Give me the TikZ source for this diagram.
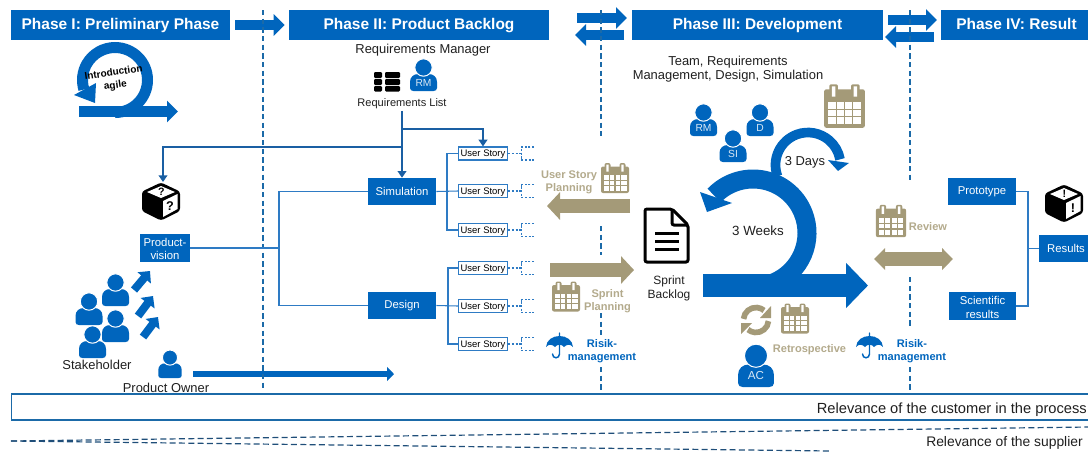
\documentclass[tikz,border=0pt]{standalone}
\usepackage{fontspec}
\setmainfont{Liberation Sans}
\usetikzlibrary{arrows.meta}

\definecolor{tumblue}{HTML}{0065BD}
\definecolor{linkblue}{HTML}{1A5FA3}
\definecolor{treeblue}{HTML}{2E7BC4}
\definecolor{splitblue}{HTML}{1B6AA8}
\definecolor{tanfill}{HTML}{A49A78}
\definecolor{tantext}{HTML}{B3AA8C}
\definecolor{navyline}{HTML}{1F4E79}

\tikzset{
  every pic/.style={yscale=-1},
  phasehead/.style={fill=tumblue,text=white,inner sep=0pt,minimum height=22.5pt,text height=8.6pt,text depth=2.4pt,font=\fontsize{11.6}{14}\selectfont\bfseries},
  bluebox/.style={fill=tumblue,text=white,inner sep=0pt,align=center,font=\fontsize{8.5}{9.7}\selectfont},
  storybox/.style={draw=treeblue,fill=white,line width=0.9pt,inner sep=0pt,minimum width=36.75pt,minimum height=9.75pt,text height=5.3pt,text depth=0.6pt,font=\fontsize{7.1}{8}\selectfont},
  plaintext/.style={inner sep=0pt,align=center,text=black!88,font=\fontsize{9.7}{10.6}\selectfont},
  smalltext/.style={plaintext,font=\fontsize{8.3}{10}\selectfont},
  tanlabel/.style={inner sep=0pt,align=center,text=tantext,font=\fontsize{8.3}{9.8}\selectfont\bfseries},
  risktext/.style={inner sep=0pt,align=center,text=tumblue,font=\fontsize{8.3}{9.8}\selectfont\bfseries},
  personlabel/.style={inner sep=0pt,text=white!85!tumblue,font=\fontsize{7.7}{9}\selectfont},
  treeline/.style={draw=treeblue,line width=0.8pt},
  reqlink/.style={draw=linkblue,line width=1.2pt},
  reqarrow/.style={reqlink,-{Triangle[length=5pt,width=6.5pt]}},
  splitline/.style={draw=splitblue,line width=1pt,dash pattern=on 4pt off 2.5pt},
  blockarrow/.style n args={3}{line width=#1,-{Triangle[length=#2,width=#3]}},
  phaseflow/.style={draw=tumblue,blockarrow={7.5pt}{8.25pt}{15.75pt}},
  ownerflow/.style={draw=tumblue,blockarrow={4.9pt}{5.25pt}{10.5pt}},
  voiceflow/.style={draw=tumblue,blockarrow={6pt}{6.75pt}{12.75pt}},
  tanflow/.style={draw=tanfill,blockarrow={10.5pt}{9.75pt}{20.25pt}},
  pics/person/.style={code={
    \fill[tumblue] (-13.5,-3) -- (-13.5,-9) .. controls (-13.5,-14) and (-10,-17) .. (-5,-17) -- (5,-17) .. controls (10,-17) and (13.5,-14) .. (13.5,-9) -- (13.5,-3) .. controls (13.5,-1) and (12,0) .. (10,0) -- (-10,0) .. controls (-12,0) and (-13.5,-1) .. (-13.5,-3) -- cycle;
    \filldraw[fill=tumblue,draw=white,line width=0.75pt] (0,-23.5) circle (8.7);
  }},
  pics/calendar/.style={code={
    \fill[tanfill,rounded corners=1.5] (-14,-11.5) rectangle (14,15);
    \fill[tanfill,rounded corners=1.5] (-10.5,-15) rectangle (-4.5,-5) (4.5,-15) rectangle (10.5,-5);
    \fill[white] (-8.7,-13.5) rectangle (-6.3,-6.5) (6.3,-13.5) rectangle (8.7,-6.5);
    \fill[white] (-11.5,-3) rectangle (11.5,12.5);
    \draw[tanfill,line width=0.8pt] (-5.75,-3) -- (-5.75,12.5) (0,-3) -- (0,12.5) (5.75,-3) -- (5.75,12.5) (-11.5,2.2) -- (11.5,2.2) (-11.5,7.4) -- (11.5,7.4);
  }},
  pics/boxcube/.style={code={
    \fill[black,rounded corners=2] (0,-19.5) -- (19,-10.5) -- (19,9) -- (0,18.5) -- (-19,9) -- (-19,-10.5) -- cycle;
    \fill[white] (0,-16) -- (14,-10) -- (0,-4) -- (-14,-10) -- cycle;
    \fill[white] (2,-1) -- (16.5,-8) -- (16.5,7) -- (2,15) -- cycle;
    \node[inner sep=0pt,font=\fontsize{8}{9}\selectfont\bfseries] (-top) at (0.5,-10) {#1};
    \node[inner sep=0pt,font=\fontsize{9.5}{10}\selectfont\bfseries] (-side) at (9,4) {#1};
  }},
  pics/umbrella/.style={code={
    \draw[tumblue,line width=1.1pt,line cap=round] (0,0) -- (0,4) (0,12) -- (0,21) .. controls (0,26) and (-7,26) .. (-7,21);
    \fill[tumblue] (-13.5,14) .. controls (-13,7) and (-7,3) .. (0,3) .. controls (7,3) and (13,7) .. (13.5,14) .. controls (11,11) and (7.5,11) .. (4.5,14) .. controls (2.5,11) and (-2.5,11) .. (-4.5,14) .. controls (-7.5,11) and (-11,11) .. (-13.5,14) -- cycle;
  }},
  pics/storytail/.style={code={
    \draw[draw=treeblue,line width=0.8pt,dash pattern=on 1.6pt off 1.2pt] (0,0) -- (13,0) (26,-6.5) -- (13,-6.5) -- (13,6.5) -- (26,6.5);
  }},
}

\begin{document}
\begin{tikzpicture}[x=0.75pt,y=0.75pt,yscale=-1,xscale=1]
\useasboundingbox (0,0) rectangle (1088,451);

%Phase headers
\node[phasehead,minimum width=164.25pt] (phaseone) at (120.5,25) {Phase I: Preliminary Phase};
\node[phasehead,minimum width=195pt] (phasetwo) at (419,25) {Phase II: Product Backlog};
\node[phasehead,minimum width=188.25pt] (phasethree) at (757.5,25) {Phase III: Development};
\node[phasehead,minimum width=113.25pt] (phasefour) at (1016.5,25) {Phase IV: Result};

%Phase arrows
\draw[phaseflow,shorten <=3.75pt,shorten >=3pt] (phaseone.east) -- (phasetwo.west);
\coordinate (swaptwoa) at (577,18); \coordinate (swaptwob) at (627,18);
\coordinate (swaptwoc) at (624,35); \coordinate (swaptwod) at (575,35);
\draw[phaseflow] (swaptwoa) -- (swaptwob);
\draw[phaseflow] (swaptwoc) -- (swaptwod);
\coordinate (swapthreea) at (888,20); \coordinate (swapthreeb) at (937,20);
\coordinate (swapthreec) at (934,37); \coordinate (swapthreed) at (885,37);
\draw[phaseflow] (swapthreea) -- (swapthreeb);
\draw[phaseflow] (swapthreec) -- (swapthreed);

%Product owner arrow
\coordinate (ownerstart) at (193,374); \coordinate (ownerend) at (394,374);
\draw[ownerflow] (ownerstart) -- (ownerend);

%Phase borders
\draw[splitline] (263,10) -- (263,388);
\draw[splitline] (601,10) -- (601,136);
\draw[splitline] (601,226) -- (601,255);
\draw[splitline] (601,313) -- (601,335);
\draw[splitline] (601,367) -- (601,392);
\draw[splitline] (910,10) -- (910,183);
\draw[splitline] (910,277) -- (910,328);
\draw[splitline] (910,367) -- (910,392);

%Shape: Intro loop
\draw[draw=tumblue,line width=8.25pt] ([shift={(90:32.5)}]115,80) arc[start angle=90,end angle=-197,radius=32.5];
\fill[tumblue] (74,95) -- (95,103) -- (96,83) -- cycle;
\coordinate (introstart) at (79,111.5); \coordinate (introend) at (178,111.5);
\draw[phaseflow,blockarrow={8.25pt}{8.25pt}{15.75pt}] (introstart) -- (introend);
% Text Node
\node[inner sep=0pt,rotate=8,align=center,font=\fontsize{7.5}{9.6}\selectfont\bfseries] (introtext) at (114.5,79.5) {Introduction\\agile};

%Shape: Product box
\pic (unknownbox) at (161,202) {boxcube={?}};
\node[bluebox,minimum width=37.5pt,minimum height=21pt] (vision) at (165,248) {\rule{0pt}{8pt}Product-\\vision};

%Stakeholders
\pic at (115.5,306) {person};
\pic at (89,325) {person};
\pic at (115.5,342) {person};
\pic at (92.5,358) {person};
\pic[scale=0.87] at (170,378) {person};
\coordinate (voiceaa) at (134,290); \coordinate (voiceab) at (150,271);
\coordinate (voiceba) at (138,316); \coordinate (voicebb) at (153,296);
\coordinate (voiceca) at (143,337); \coordinate (voicecb) at (158,317);
\draw[voiceflow] (voiceaa) -- (voiceab);
\draw[voiceflow] (voiceba) -- (voicebb);
\draw[voiceflow] (voiceca) -- (voicecb);
% Text Node
\node[plaintext] (stakeholder) at (97,364.5) {Stakeholder};
% Text Node
\node[plaintext] (owner) at (166,388) {Product Owner};

%Requirements
% Text Node
\node[plaintext] (manager) at (423,50.5) {Requirements Manager};
\fill[black,rounded corners=0.8] (374,72) rectangle (382,78) (385,72) rectangle (400,78) (374,79) rectangle (382,85) (385,79) rectangle (400,85) (374,86) rectangle (382,91.5) (385,86) rectangle (400,91.5);
\pic at (423.5,91) {person};
\node[personlabel] (rmtop) at (423.5,83) {RM};
% Text Node
\node[smalltext,minimum height=10pt] (reqlist) at (402,104) {Requirements List};

%Product backlog tree
\node[bluebox,minimum width=51pt,minimum height=20.25pt] (sim) at (402,191.5) {Simulation};
\node[bluebox,minimum width=51pt,minimum height=20.25pt] (design) at (402,305.5) {Design};
\node[storybox] (usone) at (483,153.5) {User Story};
\node[storybox] (ustwo) at (483,191) {User Story};
\node[storybox] (usthree) at (483,230) {User Story};
\node[storybox] (usfour) at (483,268) {User Story};
\node[storybox] (usfive) at (483,306) {User Story};
\node[storybox] (ussix) at (483,344) {User Story};
\coordinate (visionbus) at (279,248);
\coordinate (simbus) at (447,191);
\coordinate (designbus) at (448,306);
\draw[treeline] (vision.east) -- (visionbus);
\draw[treeline] (sim.west) -| (visionbus);
\draw[treeline] (design.west) -| (visionbus);
\draw[treeline] (sim.east) -- (ustwo.west);
\draw[treeline] (usone.west) -| (simbus);
\draw[treeline] (usthree.west) -| (simbus);
\draw[treeline] (design.east) -- (usfive.west);
\draw[treeline] (usfour.west) -| (designbus);
\draw[treeline] (ussix.west) -| (designbus);
\pic at (usone.east) {storytail};
\pic at (ustwo.east) {storytail};
\pic at (usthree.east) {storytail};
\pic at (usfour.east) {storytail};
\pic at (usfive.east) {storytail};
\pic at (ussix.east) {storytail};

%Requirements links
\coordinate (storybranch) at (402,129);
\coordinate (visionbranch) at (402,147);
\coordinate (cubetop) at (163,182);
\draw[reqarrow] (reqlist.south) -- (sim.north);
\draw[reqarrow] (storybranch) -| (usone.north);
\draw[reqarrow] (visionbranch) -| (cubetop);

%User story planning
\coordinate (planstart) at (630,206); \coordinate (planend) at (547,206);
\draw[tanflow] (planstart) -- (planend);
\pic at (615,178) {calendar};
% Text Node
\node[tanlabel] (storyplan) at (569,182.5) {User Story\\Planning};

%Sprint planning
\coordinate (sprintstart) at (550,270); \coordinate (sprintend) at (634,270);
\draw[tanflow] (sprintstart) -- (sprintend);
\pic at (566,296.5) {calendar};
% Text Node
\node[tanlabel] (sprintplan) at (607.5,301.5) {Sprint\\Planning};

%Risk
\pic at (559.5,333) {umbrella};
\pic at (869.5,333) {umbrella};
% Text Node
\node[risktext] (riskone) at (602,351.5) {Risik-\\management};
% Text Node
\node[risktext] (risktwo) at (912,351.5) {Risik-\\management};

%Sprint backlog document
\draw[black,line width=2.25pt,rounded corners=1.5] (672,209) -- (645,209) -- (645,262) -- (688,262) -- (688,225) -- cycle;
\draw[black,line width=2.25pt,rounded corners=1.5] (672,209) -- (672,225) -- (688,225);
\draw[black,line width=2.25pt] (655,233) -- (679,233) (655,241) -- (679,241) (655,249) -- (679,249);
% Text Node
\node[plaintext,font=\fontsize{9}{10.5}\selectfont] (backlog) at (669,288) {Sprint\\Backlog};

%Development team
% Text Node
\node[plaintext] (teamtext) at (728,69.5) {Team, Requirements\\Management, Design, Simulation};
\pic at (703.5,136) {person};
\node[personlabel] (rmteam) at (703.5,127.5) {RM};
\pic at (760,136) {person};
\node[personlabel] (dteam) at (760,127.5) {D};
\pic at (733,162) {person};
\node[personlabel] (siteam) at (733,154) {SI};
\pic[scale=1.45] at (844.5,106) {calendar};

%Shape: 3 days loop
\draw[draw=tumblue,line width=7.25pt] ([shift={(160:32.5)}]808,165) arc[start angle=160,end angle=350,radius=32.5];
\fill[tumblue] (828,160) -- (838,171) -- (849,163) -- cycle;
% Text Node
\node[plaintext] (days) at (805,162.5) {3 Days};

%Shape: 3 weeks loop
\draw[draw=tumblue,line width=14.25pt] ([shift={(68:54)}]753,233) arc[start angle=68,end angle=-136,radius=54];
\fill[tumblue] (700,192) -- (707,212) -- (732,203) -- cycle;
\coordinate (weekstart) at (703,285.5); \coordinate (weekend) at (868,285.5);
\draw[draw=tumblue,blockarrow={17.25pt}{16.5pt}{33pt}] (weekstart) -- (weekend);
% Text Node
\node[plaintext,font=\fontsize{10}{12}\selectfont] (weeks) at (758,231) {3 Weeks};

%Retrospective
\fill[tanfill] (771,306) -- (771,318) -- (760,318) -- cycle;
\fill[tanfill] (741,334) -- (741,323) -- (752,323) -- cycle;
\draw[draw=tanfill,line width=4.25pt] ([shift={(185:12.5)}]756,320) arc[start angle=185,end angle=310,radius=12.5];
\draw[draw=tanfill,line width=4.25pt] ([shift={(5:12.5)}]756,320) arc[start angle=5,end angle=130,radius=12.5];
\pic at (795,318.5) {calendar};
\pic[scale=1.33] at (756,387) {person};
\node[personlabel,font=\fontsize{8.7}{10}\selectfont] (acteam) at (756,375) {AC};
% Text Node
\node[tanlabel] (retro) at (809.5,350) {Retrospective};

%Review
\pic[scale=1.08] at (891,221) {calendar};
\coordinate (reviewleft) at (874,259); \coordinate (reviewright) at (953,259);
\draw[draw=tanfill,line width=10pt,{Triangle[length=8.25pt,width=16pt]}-{Triangle[length=8.25pt,width=16pt]}] (reviewleft) -- (reviewright);
% Text Node
\node[tanlabel] (review) at (928,227) {Review};

%Results tree
\node[bluebox,minimum width=51pt,minimum height=20.25pt] (proto) at (982,191.5) {Prototype};
\node[bluebox,minimum width=50.25pt,minimum height=21pt,font=\fontsize{8.5}{9.9}\selectfont] (science) at (982.5,306) {\rule{0pt}{8.4pt}Scientific\\results};
\node[bluebox,minimum width=40.5pt,minimum height=20.25pt] (results) at (1066,248.5) {Results};
\coordinate (resultbus) at (1028,248.5);
\draw[treeline] (proto.east) -| (resultbus);
\draw[treeline] (science.east) -| (resultbus);
\draw[treeline] (resultbus) -- (results.west);
\pic (knownbox) at (1064,204) {boxcube={!}};

%Relevance bars
\draw[draw=splitblue,line width=0.9pt] (11.5,394) rectangle (1090,420);
% Text Node
\node[plaintext,anchor=east,font=\fontsize{11}{13}\selectfont] (customer) at (1087,409.5) {Relevance of the customer in the process};
\coordinate (wedgetip) at (11,441);
\coordinate (wedgeup) at (1088,427);
\coordinate (wedgedown) at (830,451);
\draw[draw=navyline,line width=0.9pt,dash pattern=on 4.5pt off 2.5pt] (wedgetip) -- (wedgeup);
\draw[draw=navyline,line width=0.9pt,dash pattern=on 4.5pt off 2.5pt] (wedgetip) -- (wedgedown);
% Text Node
\node[plaintext,anchor=east,font=\fontsize{10.4}{12}\selectfont] (supplier) at (1083,443) {Relevance of the supplier};

\end{tikzpicture}
\end{document}
